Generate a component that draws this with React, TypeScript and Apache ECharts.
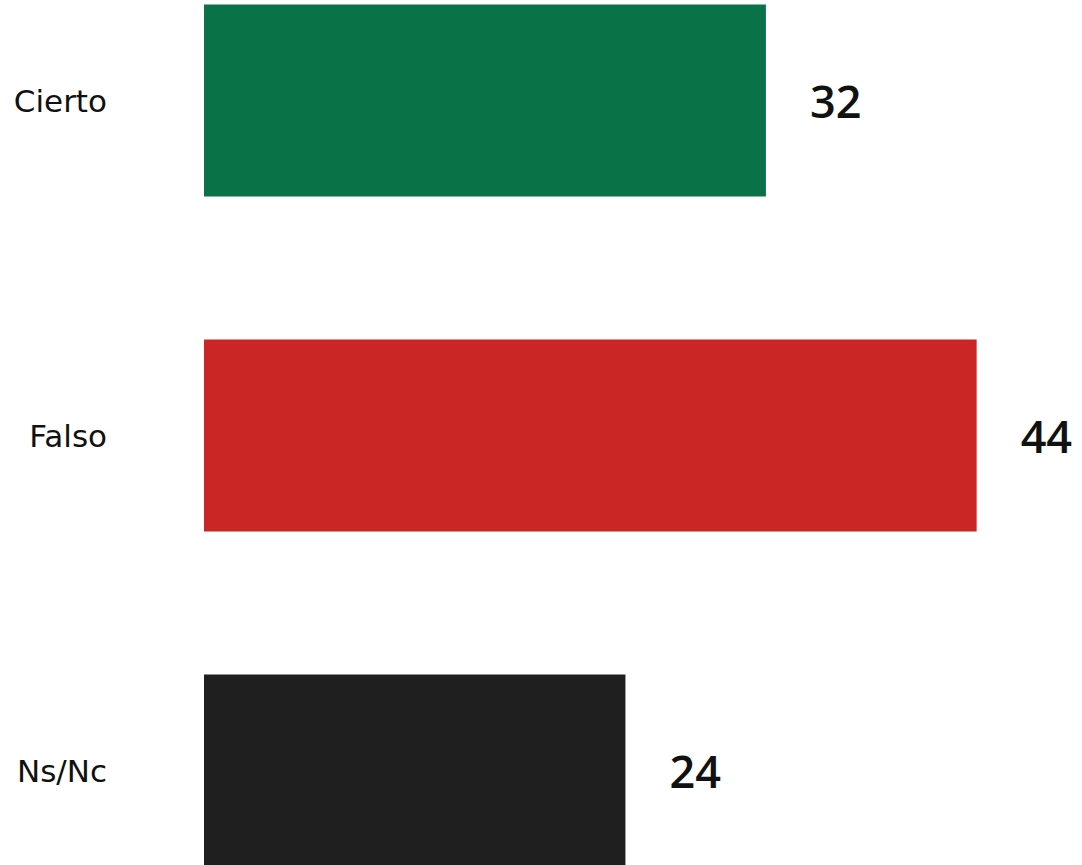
import React, { useEffect, useRef } from "react";
import * as echarts from "echarts";

const categories = ["Cierto", "Falso", "Ns/Nc"];
const values = [32, 44, 24];
const colors = ["#097347", "#cb2626", "#201f20"];

export default function App() {
  const ref = useRef<HTMLDivElement>(null);
  useEffect(() => {
    if (!ref.current) return;
    const chart = echarts.init(ref.current, undefined, { renderer: "svg" });
    chart.setOption({
      animation: false,
      grid: { left: 204, top: 0, height: 1005, width: 882, containLabel: false },
      xAxis: {
        type: "value",
        min: 0,
        max: 50,
        show: false,
      },
      yAxis: {
        type: "category",
        data: categories,
        inverse: true,
        axisLine: { show: false },
        axisTick: { show: false },
        axisLabel: {
          margin: 97,
          fontFamily: "DejaVu Sans",
          fontSize: 31,
          color: "#111111",
          align: "right",
        },
      },
      series: [
        {
          type: "bar",
          barWidth: 192,
          data: values.map((v, i) => ({ value: v, itemStyle: { color: colors[i] } })),
          label: {
            show: true,
            position: "right",
            distance: 44,
            fontFamily: "Open Sans",
            fontSize: 45,
            fontWeight: 600,
            color: "#111111",
          },
        },
      ],
    });
    return () => chart.dispose();
  }, []);
  return (
    <div style={{ position: "absolute", left: 0, top: 0, width: 1082, height: 865, overflow: "hidden" }}>
      <div
        ref={ref}
        style={{ position: "absolute", left: 0, top: -67.5, width: 1082, height: 1005 }}
      />
    </div>
  );
}
